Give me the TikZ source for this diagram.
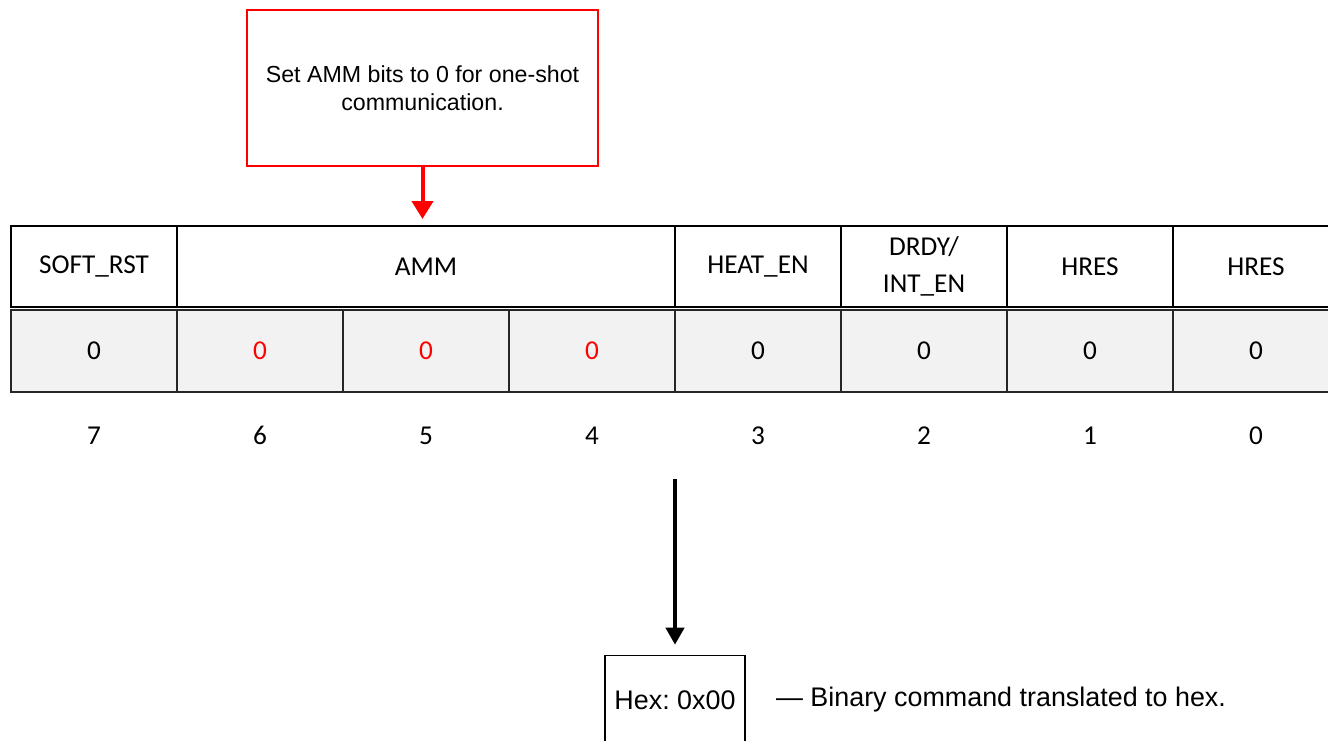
\documentclass[tikz,border=0pt]{standalone}
\usepackage{fontspec}
\setmainfont{Carlito}
\newfontfamily\arialfont{Liberation Sans}
\usetikzlibrary{arrows.meta,positioning}
\definecolor{cellgray}{RGB}{242,242,242}
\frenchspacing

\begin{document}
\begin{tikzpicture}[font=\fontsize{15.5}{21}\selectfont, cell/.style={minimum width=3.32cm, minimum height=1.62cm, inner sep=0pt, outer sep=0pt, align=center}, head/.style={cell, draw, line width=0.9pt, fill=white}, val/.style={cell, draw=black!85, line width=0.9pt, fill=cellgray, minimum height=1.64cm}, note/.style={draw=red, line width=0.9pt, align=center, font=\arialfont\fontsize{13.2}{15.9}\selectfont, minimum width=7.02cm, minimum height=3.12cm, inner sep=0pt}, hexbox/.style={draw, line width=0.9pt, font=\arialfont\fontsize{15.3}{18}\selectfont, minimum width=2.8cm, minimum height=1.78cm, inner sep=0pt}, redarr/.style={-{Triangle[width=0.42cm,length=0.36cm]}, red, line width=0.08cm}, blkarr/.style={-{Triangle[width=0.36cm,length=0.34cm]}, line width=0.08cm}]
\clip (0,0) rectangle (26.56,-14.8);
\node[note] (note) at (8.45,-1.76) {Set AMM bits to 0 for one-shot\\communication.};
% register fields
\node[head] (soft) at (1.88,-5.33) {SOFT\_RST};
\node[head, right=0cm of soft, minimum width=9.96cm] (amm) {AMM};
\node[head, right=0cm of amm] (heat) {HEAT\_EN};
\node[head, right=0cm of heat] (drdy) {DRDY/\\INT\_EN};
\node[head, right=0cm of drdy] (hres1) {HRES};
\node[head, right=0cm of hres1] (hres0) {HRES};
% bit values
\node[val, below=0.06cm of soft] (v7) {0};
\node[val, right=0cm of v7, text=red] (v6) {0};
\node[val, right=0cm of v6, text=red] (v5) {0};
\node[val, right=0cm of v5, text=red] (v4) {0};
\node[val, right=0cm of v4] (v3) {0};
\node[val, right=0cm of v3] (v2) {0};
\node[val, right=0cm of v2] (v1) {0};
\node[val, right=0cm of v1] (v0) {0};
% bit numbers
\node[cell, below=0.06cm of v7] (b7) {7};
\node[cell, below=0.06cm of v6] (b6) {6};
\node[cell, below=0.06cm of v5] (b5) {5};
\node[cell, below=0.06cm of v4] (b4) {4};
\node[cell, below=0.06cm of v3] (b3) {3};
\node[cell, below=0.06cm of v2] (b2) {2};
\node[cell, below=0.06cm of v1] (b1) {1};
\node[cell, below=0.06cm of v0] (b0) {0};
% result
\node[hexbox] (hex) at (13.5,-14.0) {Hex: 0x00};
\node[right=0.6cm of hex, inner sep=0pt, font=\arialfont\fontsize{15.3}{18}\selectfont] (desc) {— Binary command translated to hex.};
\coordinate (hexsrc) at (13.5,-9.58);
\draw[redarr, shorten >=0.14cm] (note.south) -- (note.south |- amm.north);
\draw[blkarr, shorten >=0.2cm] (hexsrc) -- (hex.north);
\end{tikzpicture}
\end{document}
